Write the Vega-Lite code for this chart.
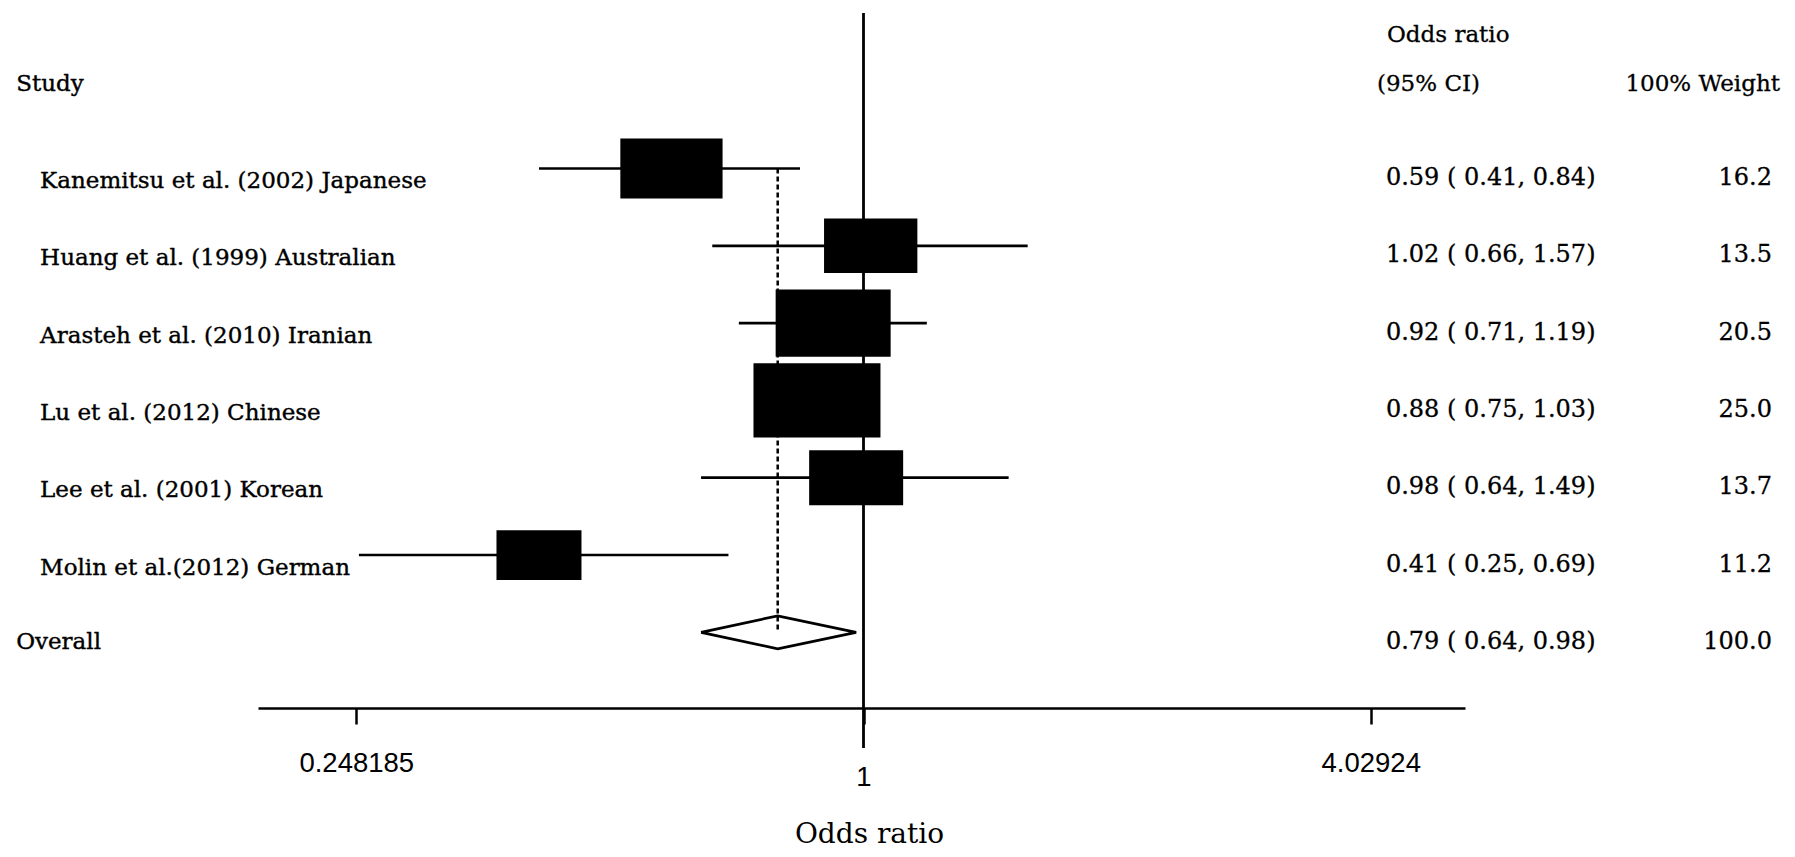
{
  "$schema": "https://vega.github.io/schema/vega-lite/v6.json",
  "width": 1207,
  "height": 695,
  "autosize": {"type": "none"},
  "padding": {"left": 258, "right": 330, "top": 13, "bottom": 149},
  "background": "white",
  "config": {"view": {"stroke": null}, "font": "DejaVu Serif"},
  "datasets": {
    "studies": [
      {"study": "Kanemitsu et al. (2002) Japanese", "row": 1, "or": 0.59, "lo": 0.41, "hi": 0.84, "weight": 16.2, "ci": "0.59 ( 0.41, 0.84)", "wt": "16.2", "type": "study"},
      {"study": "Huang et al. (1999) Australian", "row": 2, "or": 1.02, "lo": 0.66, "hi": 1.57, "weight": 13.5, "ci": "1.02 ( 0.66, 1.57)", "wt": "13.5", "type": "study"},
      {"study": "Arasteh et al. (2010) Iranian", "row": 3, "or": 0.92, "lo": 0.71, "hi": 1.19, "weight": 20.5, "ci": "0.92 ( 0.71, 1.19)", "wt": "20.5", "type": "study"},
      {"study": "Lu et al. (2012) Chinese", "row": 4, "or": 0.88, "lo": 0.75, "hi": 1.03, "weight": 25.0, "ci": "0.88 ( 0.75, 1.03)", "wt": "25.0", "type": "study"},
      {"study": "Lee et al. (2001) Korean", "row": 5, "or": 0.98, "lo": 0.64, "hi": 1.49, "weight": 13.7, "ci": "0.98 ( 0.64, 1.49)", "wt": "13.7", "type": "study"},
      {"study": "Molin et al.(2012) German", "row": 6, "or": 0.41, "lo": 0.25, "hi": 0.69, "weight": 11.2, "ci": "0.41 ( 0.25, 0.69)", "wt": "11.2", "type": "study"},
      {"study": "Overall", "row": 7, "or": 0.79, "lo": 0.64, "hi": 0.98, "weight": 100.0, "ci": "0.79 ( 0.64, 0.98)", "wt": "100.0", "type": "overall"}
    ],
    "diamond": [
      {"or": 0.64, "row": 7, "ord": 1},
      {"or": 0.79, "row": 6.787, "ord": 2},
      {"or": 0.98, "row": 7, "ord": 3},
      {"or": 0.79, "row": 7.213, "ord": 4},
      {"or": 0.64, "row": 7, "ord": 5}
    ]
  },
  "layer": [
    {
      "data": {"values": [{"ref": 1}]},
      "mark": {"type": "rule", "color": "black", "strokeWidth": 2.8},
      "encoding": {
        "x": {
          "field": "ref", "type": "quantitative",
          "scale": {"type": "log", "domain": [0.18946, 5.2204], "nice": false},
          "axis": {
            "values": [0.248185, 1, 4.02924],
            "format": ".6~g",
            "grid": false,
            "domain": true, "domainColor": "black", "domainWidth": 2.7,
            "ticks": true, "tickColor": "black", "tickWidth": 2.5, "tickSize": 16,
            "labelFont": "Liberation Sans", "labelFontSize": 27.5, "labelColor": "black",
            "labelPadding": {"condition": {"test": "datum.value == 1", "value": 39}, "value": 25},
            "labelFlush": false, "labelOverlap": false,
            "title": "Odds ratio", "titleFont": "DejaVu Serif", "titleFontSize": 28, "titleFontWeight": "normal", "titleColor": "black",
            "titleX": 611, "titleY": 134, "titleBaseline": "alphabetic", "titleAlign": "center"
          }
        },
        "y": {"datum": -1.0116, "type": "quantitative", "scale": {"domain": [-1.0116, 7.979], "reverse": true, "nice": false, "zero": false}, "axis": null},
        "y2": {"datum": 8.4966}
      }
    },
    {
      "data": {"name": "studies"},
      "transform": [{"filter": "datum.type == 'overall'"}],
      "mark": {"type": "rule", "color": "black", "strokeWidth": 2.5, "strokeDash": [5, 3]},
      "encoding": {
        "x": {"field": "or", "type": "quantitative", "title": "Odds ratio"},
        "y": {"datum": 1, "type": "quantitative", "axis": null},
        "y2": {"datum": 7}
      }
    },
    {
      "data": {"name": "studies"},
      "transform": [{"filter": "datum.type == 'study'"}],
      "mark": {"type": "rule", "color": "black", "strokeWidth": 2.7},
      "encoding": {
        "x": {"field": "lo", "type": "quantitative", "title": "Odds ratio"},
        "x2": {"field": "hi"},
        "y": {"field": "row", "type": "quantitative", "axis": null}
      }
    },
    {
      "data": {"name": "studies"},
      "transform": [{"filter": "datum.type == 'study'"}],
      "mark": {"type": "point", "shape": "M-1,-0.585L1,-0.585L1,0.585L-1,0.585Z", "filled": true, "color": "black", "opacity": 1, "strokeWidth": 0},
      "encoding": {
        "x": {"field": "or", "type": "quantitative", "title": "Odds ratio"},
        "y": {"field": "row", "type": "quantitative", "axis": null},
        "size": {"field": "weight", "type": "quantitative", "scale": {"domain": [0, 25], "range": [0, 16129]}, "legend": null}
      }
    },
    {
      "data": {"name": "diamond"},
      "mark": {"type": "line", "color": "black", "strokeWidth": 2.7, "strokeJoin": "miter"},
      "encoding": {
        "x": {"field": "or", "type": "quantitative", "title": "Odds ratio"},
        "y": {"field": "row", "type": "quantitative", "axis": null},
        "order": {"field": "ord", "type": "quantitative"}
      }
    },
    {
      "data": {"name": "studies"},
      "transform": [{"filter": "datum.type == 'study'"}],
      "mark": {"type": "text", "align": "left", "baseline": "alphabetic", "dy": 19.5, "fontSize": 23, "color": "black", "stroke": "black", "strokeWidth": 0.4, "font": "DejaVu Serif"},
      "encoding": {
        "x": {"datum": 0.10411, "type": "quantitative"},
        "y": {"field": "row", "type": "quantitative", "axis": null},
        "text": {"field": "study"}
      }
    },
    {
      "data": {"name": "studies"},
      "transform": [{"filter": "datum.type == 'overall'"}],
      "mark": {"type": "text", "align": "left", "baseline": "alphabetic", "dy": 17, "fontSize": 23, "color": "black", "stroke": "black", "strokeWidth": 0.4, "font": "DejaVu Serif"},
      "encoding": {
        "x": {"datum": 0.09748, "type": "quantitative"},
        "y": {"field": "row", "type": "quantitative", "axis": null},
        "text": {"field": "study"}
      }
    },
    {
      "data": {"name": "studies"},
      "mark": {"type": "text", "align": "left", "baseline": "alphabetic", "dy": 16.5, "fontSize": 24, "color": "black", "stroke": "black", "strokeWidth": 0.3, "font": "DejaVu Serif"},
      "encoding": {
        "x": {"datum": 4.2013, "type": "quantitative"},
        "y": {"field": "row", "type": "quantitative", "axis": null},
        "text": {"field": "ci"}
      }
    },
    {
      "data": {"name": "studies"},
      "mark": {"type": "text", "align": "right", "baseline": "alphabetic", "dy": 16.5, "fontSize": 24, "color": "black", "stroke": "black", "strokeWidth": 0.3, "font": "DejaVu Serif"},
      "encoding": {
        "x": {"datum": 12.133, "type": "quantitative"},
        "y": {"field": "row", "type": "quantitative", "axis": null},
        "text": {"field": "wt"}
      }
    },
    {
      "data": {"values": [{"label": "Study"}]},
      "mark": {"type": "text", "align": "left", "baseline": "alphabetic", "fontSize": 23, "color": "black", "stroke": "black", "strokeWidth": 0.4, "font": "DejaVu Serif"},
      "encoding": {
        "x": {"datum": 0.09748, "type": "quantitative"},
        "y": {"datum": 0, "type": "quantitative", "axis": null},
        "text": {"field": "label"}
      }
    },
    {
      "data": {"values": [{"label": "Odds ratio"}]},
      "mark": {"type": "text", "align": "left", "baseline": "alphabetic", "dy": -49, "fontSize": 23, "color": "black", "stroke": "black", "strokeWidth": 0.3, "font": "DejaVu Serif"},
      "encoding": {
        "x": {"datum": 4.2131, "type": "quantitative"},
        "y": {"datum": 0, "type": "quantitative", "axis": null},
        "text": {"field": "label"}
      }
    },
    {
      "data": {"values": [{"label": "(95% CI)"}]},
      "mark": {"type": "text", "align": "left", "baseline": "alphabetic", "fontSize": 23, "color": "black", "stroke": "black", "strokeWidth": 0.3, "font": "DejaVu Serif"},
      "encoding": {
        "x": {"datum": 4.099, "type": "quantitative"},
        "y": {"datum": 0, "type": "quantitative", "axis": null},
        "text": {"field": "label"}
      }
    },
    {
      "data": {"values": [{"label": "100% Weight"}]},
      "mark": {"type": "text", "align": "right", "baseline": "alphabetic", "fontSize": 23, "color": "black", "stroke": "black", "strokeWidth": 0.3, "font": "DejaVu Serif"},
      "encoding": {
        "x": {"datum": 12.403, "type": "quantitative"},
        "y": {"datum": 0, "type": "quantitative", "axis": null},
        "text": {"field": "label"}
      }
    }
  ]
}
